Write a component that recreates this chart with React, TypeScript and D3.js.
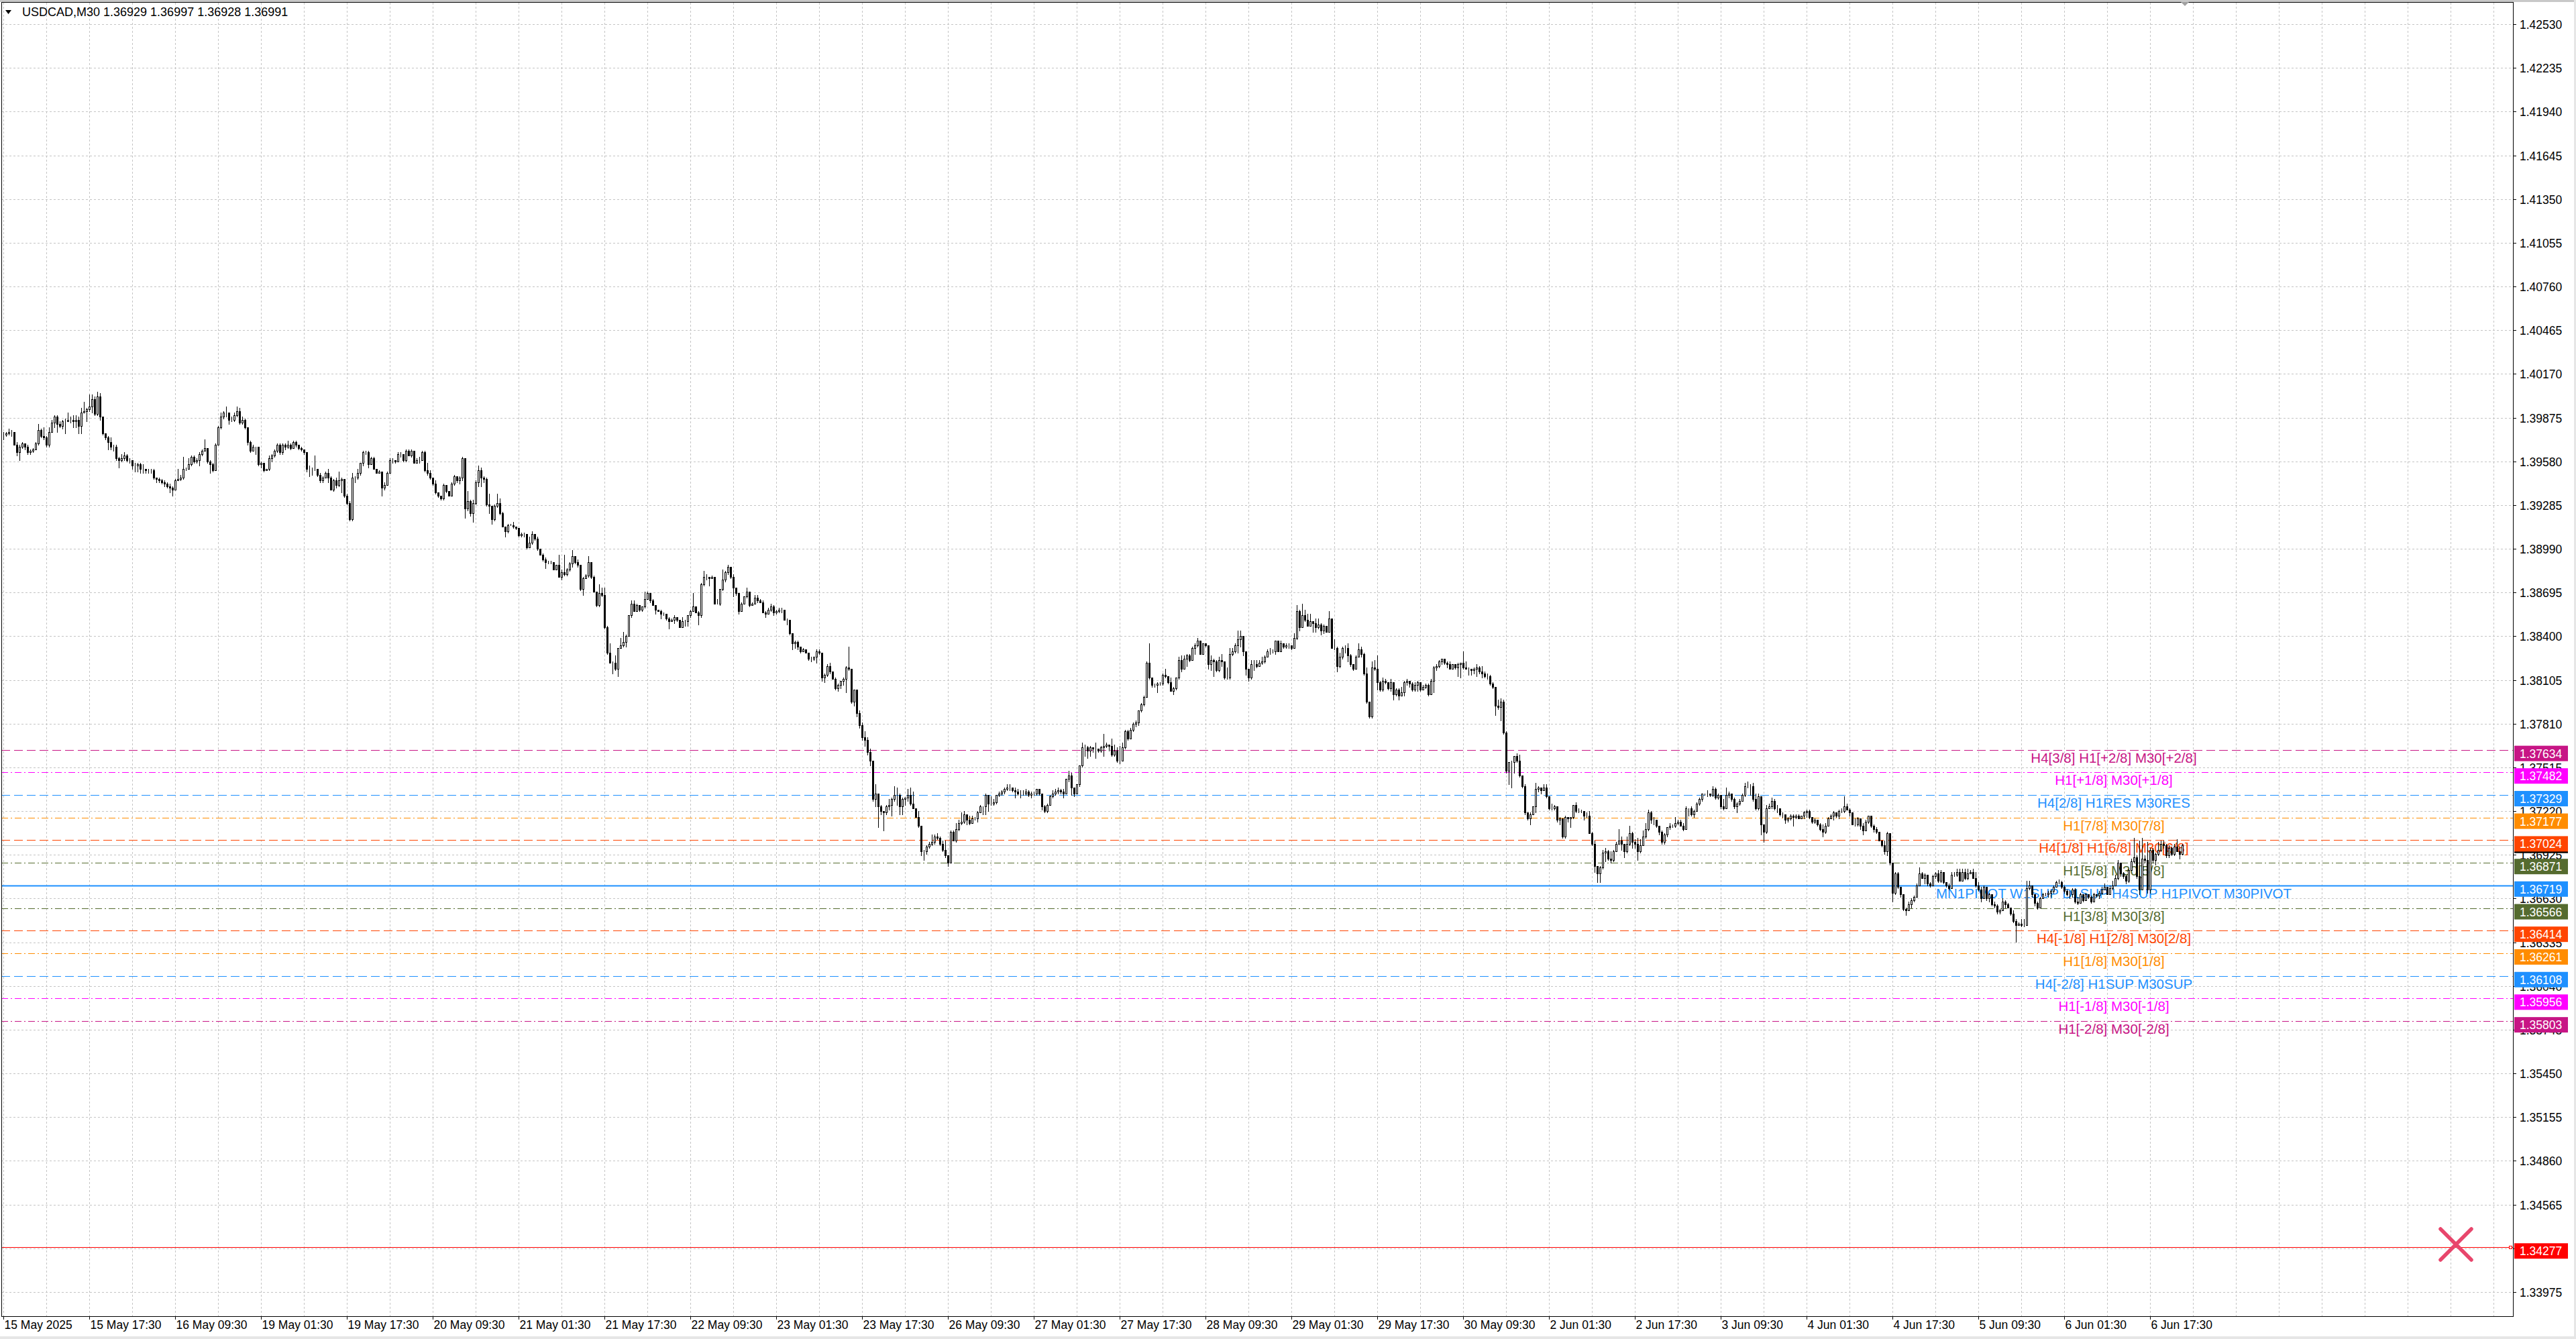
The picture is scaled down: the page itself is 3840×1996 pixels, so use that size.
import * as d3 from 'd3';
import { useEffect, useRef } from 'react';

// prices are stored in points of 0.0001
const POINT = 0.0001;
const firstOpenPt = 13976;

const closePts = [
  13976,13977,13978,13978,13969,13964,13968,13970,13968,13964,
  13965,13966,13970,13979,13975,13974,13969,13978,13984,13988,
  13983,13982,13985,13985,13986,13986,13985,13986,13982,13991,
  13992,13993,13995,14000,13990,14002,13988,13977,13974,13971,
  13968,13968,13960,13959,13960,13962,13959,13959,13955,13955,
  13956,13953,13953,13952,13952,13952,13947,13946,13945,13944,
  13943,13941,13940,13939,13945,13946,13947,13953,13953,13956,
  13961,13958,13959,13963,13965,13967,13958,13956,13952,13969,
  13981,13988,13991,13991,13986,13986,13989,13992,13984,13986,
  13981,13971,13965,13968,13968,13956,13957,13952,13953,13960,
  13962,13965,13969,13964,13969,13968,13969,13967,13971,13969,
  13967,13966,13964,13953,13953,13953,13953,13949,13945,13947,
  13950,13947,13939,13945,13942,13945,13946,13935,13930,13919,
  13947,13947,13950,13957,13964,13964,13956,13960,13953,13950,
  13951,13940,13942,13950,13959,13959,13958,13963,13963,13959,
  13965,13962,13965,13957,13959,13959,13964,13952,13950,13947,
  13943,13937,13935,13933,13942,13938,13935,13943,13948,13945,
  13947,13960,13926,13931,13923,13930,13944,13952,13947,13946,
  13929,13928,13919,13928,13930,13923,13914,13911,13915,13915,
  13914,13913,13908,13909,13909,13900,13903,13909,13906,13899,
  13895,13892,13890,13890,13890,13885,13888,13880,13883,13882,
  13885,13889,13894,13890,13888,13872,13879,13881,13890,13880,
  13870,13861,13869,13868,13846,13829,13822,13822,13818,13832,
  13834,13836,13840,13854,13862,13857,13861,13858,13860,13865,
  13869,13864,13861,13858,13857,13855,13855,13852,13850,13851,
  13853,13851,13846,13850,13850,13854,13857,13860,13856,13854,
  13875,13880,13880,13879,13880,13862,13862,13872,13878,13883,
  13887,13880,13873,13869,13857,13862,13867,13870,13861,13862,
  13866,13864,13863,13856,13855,13858,13860,13856,13857,13858,
  13858,13851,13851,13842,13835,13836,13833,13830,13831,13829,
  13825,13825,13826,13830,13829,13812,13814,13820,13816,13811,
  13805,13807,13810,13811,13819,13818,13796,13804,13788,13780,
  13772,13770,13762,13756,13730,13734,13725,13722,13721,13725,
  13726,13730,13733,13733,13725,13730,13731,13733,13727,13724,
  13718,13712,13695,13695,13698,13700,13701,13705,13704,13700,
  13696,13692,13687,13708,13702,13710,13714,13715,13720,13716,
  13714,13717,13717,13721,13725,13725,13733,13727,13727,13728,
  13733,13734,13735,13737,13738,13738,13736,13735,13734,13734,
  13734,13735,13733,13734,13734,13737,13734,13725,13722,13726,
  13732,13734,13735,13736,13735,13734,13744,13746,13738,13734,
  13740,13753,13765,13765,13763,13765,13764,13764,13763,13765,
  13766,13767,13766,13760,13763,13756,13756,13765,13776,13771,
  13777,13781,13782,13790,13794,13799,13822,13812,13807,13807,
  13808,13808,13814,13813,13809,13803,13805,13812,13824,13818,
  13825,13827,13824,13832,13834,13837,13828,13835,13834,13821,
  13824,13823,13817,13824,13823,13812,13812,13828,13830,13834,
  13838,13840,13830,13818,13812,13821,13821,13820,13822,13823,
  13826,13830,13830,13830,13837,13830,13835,13833,13834,13834,
  13832,13839,13857,13846,13854,13851,13847,13850,13849,13846,
  13848,13844,13847,13843,13852,13832,13832,13820,13826,13832,
  13832,13827,13821,13818,13826,13831,13828,13815,13796,13786,
  13819,13818,13809,13804,13810,13809,13805,13809,13801,13804,
  13800,13802,13809,13810,13808,13804,13807,13809,13804,13806,
  13807,13801,13810,13819,13820,13823,13825,13822,13821,13818,
  13821,13819,13821,13822,13819,13818,13818,13817,13818,13819,
  13816,13815,13813,13813,13808,13806,13793,13792,13796,13775,
  13749,13755,13755,13759,13756,13746,13739,13721,13717,13720,
  13725,13737,13738,13736,13738,13732,13724,13724,13725,13716,
  13717,13705,13718,13717,13718,13726,13722,13722,13722,13719,
  13719,13707,13700,13685,13680,13684,13694,13695,13690,13689,
  13695,13700,13702,13700,13695,13700,13707,13701,13700,13695,
  13699,13705,13710,13721,13716,13716,13712,13708,13701,13706,
  13711,13712,13712,13714,13715,13712,13710,13724,13724,13720,
  13722,13727,13730,13734,13734,13734,13733,13737,13731,13733,
  13725,13724,13733,13734,13730,13725,13727,13729,13733,13739,
  13739,13739,13730,13724,13732,13713,13708,13724,13725,13729,
  13724,13724,13720,13720,13716,13717,13719,13718,13719,13717,
  13719,13721,13722,13718,13715,13716,13713,13710,13708,13712,
  13717,13719,13721,13719,13722,13722,13725,13723,13721,13713,
  13713,13717,13712,13709,13715,13719,13712,13710,13708,13702,
  13699,13695,13707,13687,13667,13680,13671,13666,13656,13655,
  13659,13662,13664,13672,13680,13677,13679,13673,13672,13678,
  13680,13675,13681,13674,13672,13670,13679,13679,13681,13675,
  13681,13677,13680,13681,13677,13672,13669,13663,13671,13663,
  13666,13659,13658,13654,13655,13661,13659,13657,13653,13648,
  13645,13646,13645,13645,13670,13672,13666,13660,13657,13663,
  13666,13666,13667,13668,13671,13674,13674,13671,13668,13666,
  13666,13669,13661,13660,13666,13662,13666,13664,13661,13666,
  13665,13667,13669,13671,13666,13670,13672,13677,13687,13680,
  13678,13675,13682,13688,13691,13678,13669,13690,13689,13669,
  13696,13689,13693,13696,13700,13699,13692,13697,13693,13698,
  13695,13692.9,13699.1,
];

const highPts = [
  13978,13978,13980,13979,13975,13971,13969,13971,13970,13969,
  13966,13967,13971,13983,13980,13981,13975,13981,13986,13989,
  13989,13985,13986,13987,13991,13988,13989,13989,13988,13994,
  13998,13994,14003,14003,14002,14005,14004,13988,13977,13975,
  13974,13969,13969,13961,13963,13964,13963,13960,13959,13957,
  13957,13957,13956,13953,13953,13953,13953,13947,13947,13946,
  13945,13944,13943,13941,13946,13953,13949,13961,13954,13960,
  13962,13962,13960,13964,13966,13973,13967,13959,13957,13970,
  13982,13991,13992,13995,13991,13988,13991,13995,13994,13988,
  13987,13980,13972,13969,13968,13968,13958,13957,13953,13962,
  13963,13966,13970,13970,13970,13970,13972,13970,13972,13972,
  13969,13968,13966,13964,13955,13954,13962,13953,13950,13948,
  13951,13953,13948,13946,13947,13951,13947,13938,13936,13931,
  13950,13948,13953,13957,13965,13965,13965,13961,13961,13953,
  13952,13948,13944,13951,13960,13960,13959,13964,13964,13963,
  13966,13966,13966,13965,13960,13961,13965,13965,13957,13952,
  13947,13945,13937,13935,13943,13942,13938,13944,13949,13948,
  13948,13961,13960,13938,13932,13932,13945,13955,13954,13948,
  13947,13936,13928,13929,13936,13933,13924,13914,13916,13916,
  13917,13914,13913,13910,13910,13909,13907,13911,13909,13907,
  13899,13896,13893,13891,13891,13890,13888,13895,13885,13895,
  13886,13890,13898,13894,13892,13888,13880,13882,13894,13890,
  13881,13870,13875,13873,13873,13847,13835,13823,13827,13832,
  13839,13843,13841,13854,13864,13864,13862,13859,13860,13870,
  13870,13869,13865,13861,13858,13858,13856,13855,13853,13852,
  13854,13853,13851,13853,13851,13854,13858,13869,13860,13857,
  13876,13884,13882,13880,13881,13879,13865,13872,13885,13884,
  13888,13887,13882,13873,13869,13863,13867,13873,13870,13863,
  13868,13868,13865,13864,13857,13859,13862,13861,13858,13859,
  13859,13858,13852,13851,13842,13837,13837,13833,13832,13831,
  13829,13826,13826,13831,13831,13829,13815,13821,13822,13816,
  13812,13808,13810,13812,13820,13833,13818,13804,13803,13790,
  13782,13776,13772,13764,13753,13740,13734,13726,13722,13726,
  13730,13731,13739,13738,13734,13731,13731,13737,13738,13735,
  13724,13722,13712,13696,13699,13701,13706,13706,13707,13705,
  13702,13702,13692,13709,13709,13714,13716,13721,13722,13720,
  13719,13719,13718,13722,13726,13725,13734,13733,13732,13730,
  13733,13735,13736,13738,13740,13740,13738,13738,13737,13736,
  13736,13737,13736,13735,13735,13737,13737,13733,13726,13727,
  13733,13736,13737,13738,13737,13737,13744,13749,13748,13738,
  13740,13753,13768,13767,13766,13766,13765,13768,13764,13766,
  13774,13768,13767,13771,13767,13765,13766,13768,13777,13777,
  13778,13782,13783,13790,13795,13800,13823,13835,13812,13808,
  13809,13809,13815,13818,13813,13812,13806,13812,13826,13827,
  13827,13828,13828,13833,13835,13839,13837,13835,13835,13834,
  13827,13825,13824,13826,13828,13820,13819,13832,13832,13835,
  13844,13844,13840,13830,13818,13824,13824,13824,13824,13826,
  13827,13831,13832,13831,13837,13837,13837,13834,13835,13835,
  13834,13842,13861,13858,13862,13858,13855,13855,13850,13852,
  13852,13849,13848,13847,13857,13852,13838,13833,13829,13833,
  13834,13835,13828,13821,13827,13835,13833,13829,13819,13796,
  13823,13824,13827,13810,13812,13811,13806,13811,13809,13805,
  13805,13806,13810,13811,13809,13809,13809,13810,13807,13807,
  13808,13808,13811,13820,13821,13824,13825,13825,13823,13823,
  13821,13820,13822,13822,13830,13823,13819,13818,13819,13821,
  13820,13820,13816,13815,13814,13809,13806,13797,13798,13797,
  13776,13755,13756,13759,13761,13760,13746,13740,13721,13721,
  13725,13741,13739,13737,13740,13740,13732,13727,13726,13722,
  13718,13717,13719,13718,13718,13726,13728,13724,13723,13722,
  13721,13722,13708,13702,13685,13685,13696,13697,13696,13695,
  13696,13701,13710,13705,13700,13705,13712,13708,13703,13704,
  13703,13709,13714,13723,13722,13718,13716,13712,13709,13707,
  13711,13714,13713,13718,13716,13716,13714,13725,13724,13725,
  13723,13728,13731,13734,13734,13736,13734,13739,13738,13734,
  13733,13730,13738,13735,13734,13731,13728,13730,13734,13741,
  13742,13740,13741,13734,13734,13732,13713,13726,13727,13731,
  13730,13726,13724,13721,13720,13718,13720,13720,13720,13720,
  13719,13722,13723,13723,13718,13717,13716,13714,13713,13714,
  13718,13720,13722,13721,13723,13724,13732,13727,13724,13721,
  13717,13718,13716,13714,13716,13719,13719,13713,13711,13708,
  13702,13702,13708,13707,13687,13681,13681,13671,13666,13657,
  13661,13663,13665,13673,13684,13681,13680,13675,13674,13679,
  13681,13682,13682,13681,13674,13673,13681,13681,13683,13683,
  13683,13683,13683,13682,13683,13681,13674,13671,13672,13669,
  13667,13665,13661,13659,13656,13663,13662,13660,13657,13655,
  13649,13647,13649,13649,13675,13675,13672,13666,13661,13664,
  13667,13667,13668,13669,13672,13675,13676,13675,13672,13669,
  13668,13670,13670,13664,13667,13666,13667,13665,13665,13667,
  13666,13668,13671,13673,13671,13672,13675,13679,13689,13687,
  13681,13679,13683,13690,13704,13692,13702,13704,13692,13701,
  13697,13697,13694,13701,13702,13702,13700,13699,13698,13700,
  13703,13698,13699.7,
];

const lowPts = [
  13973,13975,13976,13975,13969,13962,13959,13967,13966,13963,
  13963,13964,13966,13969,13974,13973,13968,13968,13978,13981,
  13978,13981,13980,13977,13985,13984,13981,13981,13977,13977,
  13991,13985,13992,13991,13989,13989,13986,13976,13973,13966,
  13966,13965,13959,13954,13958,13959,13958,13957,13953,13951,
  13951,13950,13950,13950,13950,13950,13946,13944,13944,13943,
  13941,13940,13937,13935,13939,13945,13945,13946,13952,13953,
  13955,13957,13957,13955,13962,13966,13957,13950,13951,13952,
  13969,13980,13987,13988,13983,13985,13985,13988,13983,13983,
  13980,13969,13964,13967,13963,13955,13954,13951,13952,13952,
  13958,13961,13964,13963,13963,13966,13967,13966,13967,13968,
  13966,13965,13963,13951,13948,13949,13952,13948,13944,13944,
  13947,13944,13939,13938,13940,13941,13937,13934,13929,13918,
  13918,13944,13946,13949,13955,13963,13954,13957,13953,13950,
  13950,13935,13939,13942,13950,13957,13957,13958,13961,13958,
  13958,13962,13961,13957,13957,13957,13959,13951,13949,13946,
  13942,13936,13934,13932,13932,13937,13935,13935,13942,13944,
  13943,13945,13920,13925,13921,13917,13929,13941,13941,13944,
  13928,13923,13916,13918,13927,13922,13914,13907,13910,13915,
  13913,13912,13907,13907,13907,13899,13900,13902,13905,13898,
  13895,13891,13886,13889,13889,13885,13885,13880,13878,13881,
  13881,13884,13887,13889,13887,13871,13868,13879,13880,13879,
  13870,13860,13860,13867,13845,13828,13822,13815,13817,13813,
  13832,13833,13833,13840,13853,13857,13857,13857,13857,13859,
  13865,13863,13861,13855,13857,13852,13854,13851,13845,13850,
  13849,13850,13846,13846,13847,13847,13853,13857,13856,13848,
  13853,13874,13878,13874,13879,13862,13862,13861,13871,13877,
  13882,13879,13867,13868,13855,13857,13862,13866,13860,13861,
  13862,13863,13863,13856,13853,13855,13857,13854,13855,13856,
  13856,13851,13848,13841,13831,13832,13831,13829,13830,13829,
  13824,13823,13824,13822,13828,13810,13809,13813,13815,13811,
  13804,13803,13805,13807,13802,13817,13795,13793,13786,13778,
  13770,13766,13760,13753,13729,13725,13711,13720,13709,13720,
  13723,13719,13729,13726,13720,13720,13726,13729,13726,13724,
  13718,13711,13692,13689,13693,13697,13699,13700,13703,13699,
  13695,13691,13685,13687,13702,13701,13709,13713,13714,13713,
  13713,13714,13716,13715,13721,13720,13720,13722,13726,13726,
  13727,13732,13733,13734,13736,13736,13735,13731,13733,13731,
  13733,13733,13732,13731,13733,13733,13733,13723,13721,13721,
  13726,13731,13733,13734,13734,13731,13734,13742,13733,13732,
  13734,13739,13752,13759,13758,13759,13762,13758,13762,13762,
  13759,13765,13763,13759,13759,13755,13754,13756,13764,13770,
  13771,13776,13779,13780,13789,13793,13799,13811,13806,13806,
  13802,13807,13807,13812,13808,13803,13801,13804,13811,13816,
  13818,13820,13823,13826,13828,13833,13828,13828,13833,13818,
  13817,13813,13816,13816,13820,13811,13811,13811,13827,13829,
  13829,13833,13827,13814,13810,13811,13817,13819,13820,13821,
  13822,13826,13828,13829,13828,13830,13831,13832,13832,13832,
  13831,13832,13838,13844,13846,13850,13847,13847,13843,13843,
  13845,13841,13842,13843,13843,13832,13831,13816,13819,13825,
  13829,13823,13820,13817,13818,13826,13826,13814,13795,13785,
  13785,13817,13804,13803,13803,13808,13804,13803,13797,13800,
  13797,13800,13800,13807,13806,13803,13803,13803,13803,13804,
  13805,13800,13801,13802,13817,13819,13821,13821,13819,13818,
  13818,13818,13813,13812,13818,13818,13814,13814,13815,13813,
  13815,13812,13812,13811,13807,13805,13787,13791,13783,13774,
  13748,13740,13738,13748,13755,13745,13738,13720,13716,13713,
  13720,13721,13735,13734,13737,13731,13723,13723,13723,13715,
  13713,13704,13704,13715,13711,13717,13721,13721,13721,13716,
  13718,13707,13699,13681,13674,13674,13683,13688,13689,13687,
  13688,13695,13700,13696,13691,13694,13699,13697,13697,13689,
  13694,13699,13704,13709,13714,13713,13711,13706,13700,13700,
  13705,13710,13711,13711,13713,13712,13709,13710,13719,13719,
  13718,13722,13726,13729,13733,13732,13732,13732,13730,13730,
  13724,13723,13728,13731,13729,13724,13721,13726,13729,13732,
  13738,13733,13729,13723,13723,13706,13701,13707,13724,13724,
  13723,13721,13719,13718,13714,13715,13716,13712,13717,13717,
  13717,13717,13718,13717,13714,13714,13712,13709,13705,13707,
  13712,13717,13716,13718,13717,13721,13721,13723,13719,13713,
  13712,13712,13710,13706,13709,13714,13711,13708,13707,13702,
  13698,13693,13692,13686,13661,13666,13670,13664,13655,13652,
  13655,13657,13661,13664,13672,13677,13673,13672,13671,13672,
  13677,13674,13674,13673,13671,13669,13670,13678,13678,13675,
  13676,13676,13676,13680,13677,13671,13668,13661,13663,13662,
  13661,13658,13657,13653,13653,13655,13657,13657,13652,13647,
  13634,13645,13644,13644,13645,13669,13664,13658,13656,13657,
  13663,13665,13664,13664,13667,13671,13673,13670,13667,13665,
  13663,13664,13660,13659,13660,13661,13662,13663,13660,13661,
  13664,13663,13666,13669,13666,13666,13669,13672,13676,13678,
  13677,13673,13674,13682,13687,13677,13666,13669,13687,13667,
  13667,13687,13686,13692,13695,13697,13691,13691,13692,13692,
  13695,13690,13692.8,
];

const timeLabels = [
  '15 May 2025', '15 May 17:30', '16 May 09:30', '19 May 01:30', '19 May 17:30',
  '20 May 09:30', '21 May 01:30', '21 May 17:30', '22 May 09:30', '23 May 01:30',
  '23 May 17:30', '26 May 09:30', '27 May 01:30', '27 May 17:30', '28 May 09:30',
  '29 May 01:30', '29 May 17:30', '30 May 09:30', '2 Jun 01:30', '2 Jun 17:30',
  '3 Jun 09:30', '4 Jun 01:30', '4 Jun 17:30', '5 Jun 09:30', '6 Jun 01:30',
  '6 Jun 17:30',
];
const barsPerLabel = 32;
const barsPerGrid = 16;

const priceTicks = [
  '1.33975', '1.34270', '1.34565', '1.34860', '1.35155', '1.35450', '1.35745',
  '1.36040', '1.36335', '1.36630', '1.36925', '1.37220', '1.37515', '1.37810',
  '1.38105', '1.38400', '1.38695', '1.38990', '1.39285', '1.39580', '1.39875',
  '1.40170', '1.40465', '1.40760', '1.41055', '1.41350', '1.41645', '1.41940',
  '1.42235', '1.42530',
];

const levelPrices = [
  1.37634, 1.37482, 1.37329, 1.37177, 1.37024, 1.36871, 1.36719,
  1.36566, 1.36414, 1.36261, 1.36108, 1.35956, 1.35803,
];
const levelNames = [
  'H4[3/8] H1[+2/8] M30[+2/8]',
  'H1[+1/8] M30[+1/8]',
  'H4[2/8] H1RES M30RES',
  'H1[7/8] M30[7/8]',
  'H4[1/8] H1[6/8] M30[6/8]',
  'H1[5/8] M30[5/8]',
  'MN1PIVOT W1SUP D1SUP H4SUP H1PIVOT M30PIVOT',
  'H1[3/8] M30[3/8]',
  'H4[-1/8] H1[2/8] M30[2/8]',
  'H1[1/8] M30[1/8]',
  'H4[-2/8] H1SUP M30SUP',
  'H1[-1/8] M30[-1/8]',
  'H1[-2/8] M30[-2/8]',
];
const levelColors = [
  '#C71585', '#FF00FF', '#1E90FF', '#FF8C00', '#FF4500', '#556B2F', '#1E90FF',
  '#556B2F', '#FF4500', '#FF8C00', '#1E90FF', '#FF00FF', '#C71585',
];
const levelStyles = [
  'dash', 'dashdot', 'dash', 'dashdot', 'dash', 'dashdot', 'solid',
  'dashdot', 'dash', 'dashdot', 'dash', 'dashdot', 'dashdot',
];

const bidPrice = 1.36991;
const alertPrice = 1.34277;
const title = 'USDCAD,M30  1.36929 1.36997 1.36928 1.36991';

const W = 3840;
const H = 1996;
const LEFT = 2;
const TOP = 4;
const RIGHT = 3746;
const BOTTOM = 1962;
const FONT = "'Liberation Sans', Arial, sans-serif";

export default function App() {
  const ref = useRef<SVGSVGElement | null>(null);

  useEffect(() => {
    document.body.style.margin = '0';
    document.body.style.overflow = 'hidden';
    const svg = d3.select(ref.current);
    svg.selectAll('*').remove();

    const y = d3.scaleLinear().domain([1.33975, 1.4253]).range([1926, 36]);
    const x = d3.scaleLinear().domain([0, 1]).range([5, 9]);
    const px = (v: number) => Math.round(v) + 0.5;

    svg.append('rect').attr('width', W).attr('height', H).attr('fill', '#fff');
    svg.append('rect').attr('x', 0).attr('y', 0).attr('width', W).attr('height', 3).attr('fill', '#c8c8c8');
    svg.append('rect').attr('x', 0).attr('y', 1992).attr('width', W).attr('height', 4).attr('fill', '#e6e6e6');
    svg.append('rect').attr('x', 3837).attr('y', 0).attr('width', 3).attr('height', H).attr('fill', '#e6e6e6');

    // grid
    const grid = svg.append('g').attr('stroke', '#c4c4c4').attr('stroke-dasharray', '3,3').attr('shape-rendering', 'crispEdges');
    priceTicks.forEach((t) => {
      grid.append('line').attr('x1', LEFT).attr('x2', RIGHT).attr('y1', px(y(+t))).attr('y2', px(y(+t)));
    });
    for (let b = 0; x(b) < RIGHT; b += barsPerGrid) {
      grid.append('line').attr('x1', px(x(b))).attr('x2', px(x(b))).attr('y1', TOP).attr('y2', BOTTOM);
    }

    // level lines and labels
    const dash: Record<string, string | null> = { dash: '13,6', dashdot: '10,4,2,4', solid: null };
    levelPrices.forEach((p, i) => {
      svg.append('line')
        .attr('x1', LEFT).attr('x2', RIGHT)
        .attr('y1', px(y(p))).attr('y2', px(y(p)))
        .attr('stroke', levelColors[i])
        .attr('stroke-width', levelStyles[i] === 'solid' ? 2.2 : 1.2)
        .attr('stroke-dasharray', dash[levelStyles[i]]);
    });
    svg.append('line').attr('x1', LEFT).attr('x2', RIGHT).attr('y1', px(y(bidPrice))).attr('y2', px(y(bidPrice)))
      .attr('stroke', '#c0c0c0').attr('stroke-width', 1);
    svg.append('line').attr('x1', LEFT).attr('x2', RIGHT).attr('y1', px(y(alertPrice))).attr('y2', px(y(alertPrice)))
      .attr('stroke', '#ff0000').attr('stroke-width', 1);
    svg.append('rect').attr('x', RIGHT - 5.5).attr('y', px(y(alertPrice)) - 2).attr('width', 4).attr('height', 4)
      .attr('fill', '#fff').attr('stroke', '#ff0000').attr('stroke-width', 1);

    levelPrices.forEach((p, i) => {
      svg.append('text')
        .attr('x', 3151).attr('y', y(p) + 19)
        .attr('text-anchor', 'middle')
        .attr('font-family', FONT).attr('font-size', 20.5)
        .attr('fill', levelColors[i])
        .text(levelNames[i]);
    });

    // candles
    const bars = svg.append('g').attr('shape-rendering', 'crispEdges');
    closePts.forEach((cp, i) => {
      const o = (i === 0 ? firstOpenPt : closePts[i - 1]) * POINT;
      const c = cp * POINT;
      const hi = Math.max(highPts[i] * POINT, o, c);
      const lo = Math.min(lowPts[i] * POINT, o, c);
      const cx = Math.round(x(i));
      bars.append('line')
        .attr('x1', cx + 0.5).attr('x2', cx + 0.5)
        .attr('y1', Math.round(y(hi))).attr('y2', Math.round(y(lo)) + 1)
        .attr('stroke', '#000').attr('stroke-width', 1);
      const top = Math.round(y(Math.max(o, c)));
      const bot = Math.round(y(Math.min(o, c)));
      bars.append('rect')
        .attr('x', cx - 0.5).attr('y', top + 0.5)
        .attr('width', 2).attr('height', Math.max(bot - top, 0))
        .attr('fill', c >= o ? '#fff' : '#000')
        .attr('stroke', '#000').attr('stroke-width', 1);
    });

    // frame
    svg.append('rect').attr('x', LEFT + 0.5).attr('y', TOP - 0.5).attr('width', RIGHT - LEFT).attr('height', BOTTOM - TOP + 1)
      .attr('fill', 'none').attr('stroke', '#000').attr('stroke-width', 1).attr('shape-rendering', 'crispEdges');

    // price axis
    const axis = svg.append('g').attr('font-family', FONT).attr('font-size', 17.5).attr('fill', '#000');
    priceTicks.forEach((t) => {
      const yy = px(y(+t));
      axis.append('line').attr('x1', RIGHT).attr('x2', RIGHT + 5).attr('y1', yy).attr('y2', yy)
        .attr('stroke', '#000').attr('shape-rendering', 'crispEdges');
      axis.append('text').attr('x', 3756).attr('y', yy + 6.5).text(t);
    });

    // time axis
    timeLabels.forEach((t, k) => {
      const xx = px(x(k * barsPerLabel));
      axis.append('line').attr('x1', xx).attr('x2', xx).attr('y1', BOTTOM).attr('y2', BOTTOM + 5)
        .attr('stroke', '#000').attr('shape-rendering', 'crispEdges');
      axis.append('text').attr('x', xx + 1).attr('y', 1981).text(t);
    });

    // price boxes
    const box = (p: number, color: string, dy0: number, dy1: number) => {
      const yy = y(p);
      svg.append('rect').attr('x', 3748).attr('y', yy + dy0).attr('width', 80).attr('height', dy1 - dy0).attr('fill', color);
      svg.append('text').attr('x', 3756).attr('y', yy + dy1 - 5)
        .attr('font-family', FONT).attr('font-size', 17.5).attr('fill', '#fff').text(p.toFixed(5));
    };
    box(bidPrice, '#000', -11, 12);
    levelPrices.forEach((p, i) => box(p, levelColors[i], -6, 17));
    box(alertPrice, '#ff0000', -6, 17);

    // title
    svg.append('path').attr('d', 'M8,15 L17,15 L12.5,21 Z').attr('fill', '#000');
    svg.append('text').attr('x', 33).attr('y', 24).attr('font-family', FONT).attr('font-size', 18).attr('fill', '#000').text(title);

    // shift marker
    svg.append('path').attr('d', 'M3251,3 L3263,3 L3257,9 Z').attr('fill', '#a0a0a0');

    // alert cross
    const cxX = 3661;
    const cyX = 1855;
    svg.append('path')
      .attr('d', `M${cxX - 23},${cyX - 23} L${cxX + 23},${cyX + 23} M${cxX + 23},${cyX - 23} L${cxX - 23},${cyX + 23}`)
      .attr('stroke', '#E8466C').attr('stroke-width', 5.5).attr('stroke-linecap', 'round').attr('fill', 'none');
  }, []);

  return (
    <svg
      ref={ref}
      width={W}
      height={H}
      style={{ position: 'absolute', left: 0, top: 0, display: 'block' }}
      role="img"
      aria-label="USDCAD M30 chart"
    />
  );
}
